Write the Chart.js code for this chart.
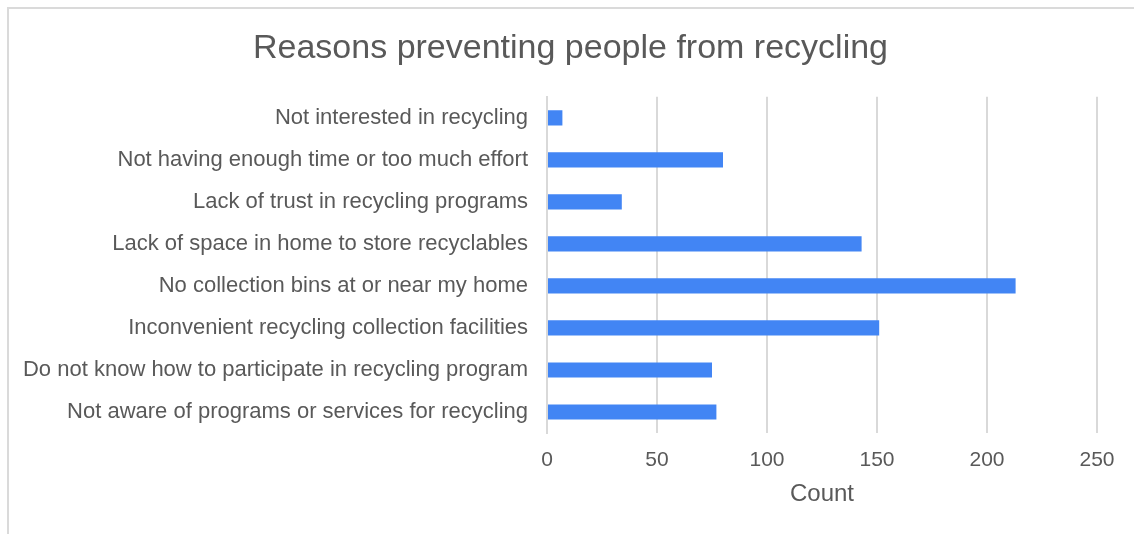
<!DOCTYPE html>
<html>
<head>
<meta charset="utf-8">
<title>Reasons preventing people from recycling</title>
<script src="https://cdn.jsdelivr.net/npm/chart.js@4/dist/chart.umd.min.js"></script>
<style>
  html, body { margin: 0; padding: 0; background: #fff; overflow: hidden; }
  #frame {
    position: absolute; left: 7px; top: 7px; width: 1200px; height: 600px;
    border-top: 2px solid #dadada; border-left: 2px solid #dadada;
  }
  #grafico { position: absolute; left: 0; top: 0; }
</style>
</head>
<body>
<div id="frame"></div>
<canvas id="grafico" width="1134" height="534"></canvas>
<script>
// reasons, listed top to bottom
const motivi = [
    'Not interested in recycling',
    'Not having enough time or too much effort',
    'Lack of trust in recycling programs',
    'Lack of space in home to store recyclables',
    'No collection bins at or near my home',
    'Inconvenient recycling collection facilities',
    'Do not know how to participate in recycling program',
    'Not aware of programs or services for recycling'
];
const conteggi = [7, 80, 34, 143, 213, 151, 75, 77];
const tickAsseX = [0, 50, 100, 150, 200, 250];

const grigioTesto = '#595959';
const grigioGriglia = '#d9d9d9';

Chart.defaults.font.family = '"Liberation Sans", Arial, sans-serif';
Chart.defaults.color = grigioTesto;

const ctx = document.getElementById('grafico').getContext('2d');
new Chart(ctx, {
    type: 'bar',
    data: {
        labels: motivi,
        datasets: [{
            label: 'Count',
            data: conteggi,
            backgroundColor: '#4285f4',
            borderWidth: 0,
            categoryPercentage: 1,
            barPercentage: 0.36
        }]
    },
    options: {
        indexAxis: 'y',
        responsive: false,
        animation: false,
        devicePixelRatio: 1,
        layout: { padding: { left: 7, right: 0, top: 0, bottom: 25 } },
        plugins: {
            legend: { display: false },
            tooltip: { enabled: false },
            title: {
                display: true,
                text: 'Reasons preventing people from recycling',
                color: grigioTesto,
                font: { size: 34, weight: 'normal' },
                padding: { top: 28, bottom: 28 }
            }
        },
        scales: {
            x: {
                min: tickAsseX[0],
                max: tickAsseX[tickAsseX.length - 1],
                afterBuildTicks(scale) {
                    scale.ticks = tickAsseX.map(v => ({ value: v }));
                },
                afterFit(scale) {
                    scale.height = 76;
                    scale.paddingRight = 37;
                },
                grid: { color: grigioGriglia, lineWidth: 2, drawTicks: false },
                border: { display: false },
                ticks: { font: { size: 21 }, padding: 15, color: grigioTesto },
                title: {
                    display: true,
                    text: 'Count',
                    font: { size: 24 },
                    color: grigioTesto,
                    padding: { top: 8, bottom: 0 }
                }
            },
            y: {
                afterFit(scale) { scale.width = 540; },
                grid: { display: false, drawTicks: false },
                border: { color: grigioGriglia, width: 2 },
                ticks: { font: { size: 22 }, padding: 19, color: grigioTesto }
            }
        }
    }
});
</script>
</body>
</html>
